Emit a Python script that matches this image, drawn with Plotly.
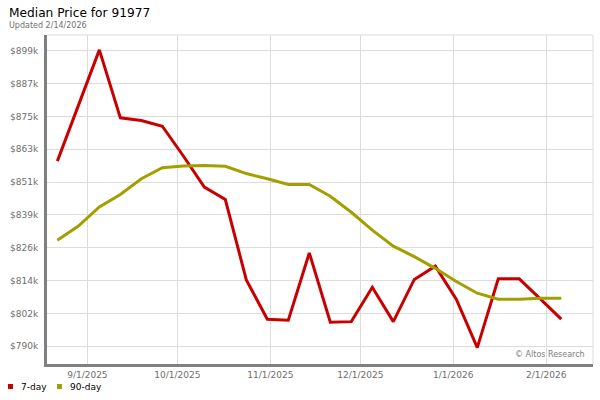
import plotly.graph_objects as go
import pandas as pd

# ---- data ----
dates = pd.date_range("2025-08-22", periods=25, freq="7D")
price_7day = [858.4, 879.0, 899.5, 874.4, 873.4, 871.3, 860.3, 848.8, 844.2, 814.5,
              800.0, 799.6, 824.5, 798.9, 799.1, 811.8, 799.1, 814.7, 819.6, 807.4,
              789.5, 814.9, 814.9, 807.5, 800.0]
price_90day = [829.2, 834.4, 841.5, 846.1, 851.9, 856.0, 856.6, 856.8, 856.5, 853.8,
               851.9, 849.8, 849.8, 845.4, 839.5, 832.9, 827.0, 823.1, 818.8, 813.9,
               809.6, 807.4, 807.4, 807.7, 807.7]
series_names = ["7-day", "90-day"]
series_colors = ["#c80000", "#a39f00"]

y_tick_vals = [790.0, 802.13, 814.26, 826.39, 838.52, 850.65, 862.78, 874.91, 887.04, 899.17]
y_tick_text = ["$790k", "$802k", "$814k", "$826k", "$839k", "$851k", "$863k", "$875k", "$887k", "$899k"]
x_tick_vals = ["2025-09-01", "2025-10-01", "2025-11-01", "2025-12-01", "2026-01-01", "2026-02-01"]
x_tick_text = ["9/1/2025", "10/1/2025", "11/1/2025", "12/1/2025", "1/1/2026", "2/1/2026"]

FONT = "DejaVu Sans"
W, H = 600, 400
L, R, T, B = 47, 7, 35, 36
pw, ph = W - L - R, H - T - B


def px_x(p):
    return (p - L) / pw


def px_y(p):
    return (H - B - p) / ph


fig = go.Figure()
for vals, name, col in zip([price_7day, price_90day], series_names, series_colors):
    fig.add_trace(go.Scatter(
        x=dates, y=[v * 1000 for v in vals], mode="lines", name=name,
        line=dict(color=col, width=3), showlegend=False))

fig.update_layout(
    width=W, height=H,
    margin=dict(l=L, r=R, t=T, b=B, pad=0),
    paper_bgcolor="white", plot_bgcolor="white",
    font=dict(family=FONT, size=9, color="#6e6e6e"),
    xaxis=dict(
        range=["2025-08-18 13:00", "2026-02-16 14:00"],
        tickvals=x_tick_vals, ticktext=x_tick_text,
        showgrid=True, gridcolor="#dcdcdc", gridwidth=1,
        showline=True, linecolor="#808080", linewidth=3,
        ticks="", ticklabelstandoff=0, zeroline=False,
        tickfont=dict(family=FONT, size=9, color="#6e6e6e"),
    ),
    yaxis=dict(
        range=[783450, 905000],
        tickvals=[v * 1000 for v in y_tick_vals], ticktext=y_tick_text,
        showgrid=True, gridcolor="#dcdcdc", gridwidth=1,
        showline=True, linecolor="#808080", linewidth=3,
        ticks="", ticklabelstandoff=4, zeroline=False,
        tickfont=dict(family=FONT, size=9, color="#6e6e6e"),
    ),
    showlegend=False,
)

# light top and right borders of the plot area
fig.add_shape(type="line", xref="paper", yref="paper", x0=0, x1=1, y0=1, y1=1,
              line=dict(color="#dcdcdc", width=1), layer="below")
fig.add_shape(type="line", xref="paper", yref="paper", x0=1, x1=1, y0=0, y1=1,
              line=dict(color="#dcdcdc", width=1), layer="below")

# title and subtitle
fig.add_annotation(text="Median Price for 91977", xref="paper", yref="paper",
                   x=px_x(7), y=px_y(13), xanchor="left", yanchor="middle",
                   showarrow=False, font=dict(family=FONT, size=12.2, color="#000000"))
fig.add_annotation(text="Updated 2/14/2026", xref="paper", yref="paper",
                   x=px_x(7), y=px_y(25), xanchor="left", yanchor="middle",
                   showarrow=False, font=dict(family=FONT, size=8, color="#707070"))

# watermark
fig.add_annotation(text="© Altos Research", xref="paper", yref="paper",
                   x=px_x(587), y=px_y(354.5), xanchor="right", yanchor="middle",
                   showarrow=False, font=dict(family=FONT, size=8, color="#808080"))

# legend (swatches + labels)
legend_x = [8, 57]
for lx, name, col in zip(legend_x, series_names, series_colors):
    fig.add_shape(type="rect", xref="paper", yref="paper",
                  x0=px_x(lx), x1=px_x(lx + 5), y0=px_y(389), y1=px_y(384),
                  fillcolor=col, line=dict(width=0))
    fig.add_annotation(text=name, xref="paper", yref="paper",
                       x=px_x(lx + 11), y=px_y(386.5), xanchor="left", yanchor="middle",
                       showarrow=False, font=dict(family=FONT, size=9, color="#000000"))

fig.write_html("out.html", config={"displayModeBar": False},
               post_script="document.body.style.margin='0';")
